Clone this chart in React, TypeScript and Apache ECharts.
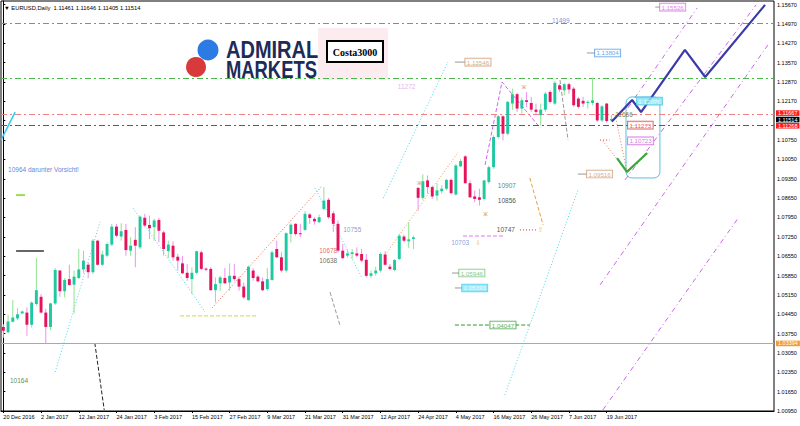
import React, { useEffect, useRef } from "react";
import * as echarts from "echarts";

type Pt = [number, number];

const MONTHS = ["Jan", "Feb", "Mar", "Apr", "May", "Jun", "Jul", "Aug", "Sep", "Oct", "Nov", "Dec"];
const FIRST_DAY = "2016-12-20";
const SKIPPED_DAYS = ["2016-12-26"];
const SLOTS = 164;
const DATE_LABEL_STEP = 8;
const LAST_DATED_BAR = 128;

const Y_MIN = 1.0095;
const Y_MAX = 1.1578;
const Y_STEP = 0.007;
const yTickLabels = [
  "1.00950", "1.01650", "1.02350", "1.03050", "1.03750", "1.04450", "1.05150", "1.05850",
  "1.06550", "1.07250", "1.07950", "1.08650", "1.09350", "1.10050", "1.10750", "",
  "1.12170", "1.12870", "1.13570", "1.14270", "1.14970", "1.15670",
];

const HEADER = "\u25BC EURUSD,Daily  1.11461 1.11646 1.11405 1.11514";

// Daily candles, 20 Dec 2016 .. 20 Jun 2017
const opens = [
  1.0399, 1.0380, 1.0418, 1.0430, 1.0448, 1.0451, 1.0407, 1.0482, 1.0508, 1.0451,
  1.0399, 1.0484, 1.0603, 1.0528, 1.0572, 1.0552, 1.0576, 1.0607, 1.0624, 1.0597,
  1.0711, 1.0624, 1.0657, 1.0697, 1.0762, 1.0726, 1.0750, 1.0675, 1.0714, 1.0687,
  1.0794, 1.0768, 1.0760, 1.0786, 1.0741, 1.0673, 1.0693, 1.0653, 1.0629, 1.0595,
  1.0572, 1.0595, 1.0669, 1.0610, 1.0609, 1.0532, 1.0557, 1.0576, 1.0560, 1.0584,
  1.0572, 1.0545, 1.0496, 1.0603, 1.0581, 1.0564, 1.0536, 1.0569, 1.0681, 1.0651,
  1.0603, 1.0735, 1.0772, 1.0738, 1.0750, 1.0806, 1.0790, 1.0778, 1.0826, 1.0859,
  1.0810, 1.0772, 1.0675, 1.0657, 1.0663, 1.0665, 1.0663, 1.0642, 1.0584, 1.0593,
  1.0603, 1.0661, 1.0617, 1.0605, 1.0645, 1.0726, 1.0709, 1.0717, 1.0902, 1.0866,
  1.0929, 1.0905, 1.0874, 1.0890, 1.0899, 1.0931, 1.0878, 1.0980, 1.1016, 1.0919,
  1.0871, 1.0868, 1.0862, 1.0923, 1.0977, 1.1086, 1.1161, 1.1098, 1.1207, 1.1241,
  1.1189, 1.1219, 1.1209, 1.1185, 1.1165, 1.1185, 1.1249, 1.1207, 1.1273, 1.1255,
  1.1277, 1.1261, 1.1225, 1.1217, 1.1209, 1.1209, 1.1209, 1.1146, 1.1207, 1.11461,
];
const highs = [
  1.0409, 1.0443, 1.0496, 1.0467, 1.0458, 1.0470, 1.0491, 1.0649, 1.0518, 1.0464,
  1.0487, 1.0612, 1.0605, 1.0576, 1.0624, 1.0603, 1.0681, 1.0675, 1.0633, 1.0717,
  1.0714, 1.0675, 1.0705, 1.0772, 1.0772, 1.0774, 1.0772, 1.0723, 1.0760, 1.0802,
  1.0808, 1.0802, 1.0790, 1.0793, 1.0747, 1.0711, 1.0709, 1.0663, 1.0656, 1.0627,
  1.0615, 1.0675, 1.0675, 1.0615, 1.0615, 1.0578, 1.0584, 1.0612, 1.0629, 1.0627,
  1.0581, 1.0560, 1.0621, 1.0612, 1.0588, 1.0578, 1.0612, 1.0675, 1.0711, 1.0669,
  1.0741, 1.0774, 1.0774, 1.0772, 1.0818, 1.0811, 1.0796, 1.0806, 1.0905, 1.0866,
  1.0818, 1.0784, 1.0699, 1.0677, 1.0681, 1.0687, 1.0681, 1.0663, 1.0603, 1.0617,
  1.0669, 1.0673, 1.0627, 1.0645, 1.0736, 1.0733, 1.0778, 1.0729, 1.0905, 1.0951,
  1.0947, 1.0911, 1.0919, 1.0911, 1.0935, 1.0935, 1.0989, 1.1007, 1.1020, 1.0929,
  1.0893, 1.0899, 1.0931, 1.0983, 1.1092, 1.1165, 1.1165, 1.1217, 1.1261, 1.1246,
  1.1229, 1.1249, 1.1231, 1.1207, 1.1207, 1.1249, 1.1255, 1.1289, 1.1279, 1.1282,
  1.1282, 1.1267, 1.1231, 1.1231, 1.1219, 1.1301, 1.1213, 1.1201, 1.1209, 1.11646,
];
const lows = [
  1.0360, 1.0376, 1.0415, 1.0424, 1.0445, 1.0367, 1.0397, 1.0476, 1.0448, 1.0340,
  1.0387, 1.0479, 1.0508, 1.0506, 1.0548, 1.0448, 1.0572, 1.0593, 1.0576, 1.0591,
  1.0621, 1.0619, 1.0651, 1.0692, 1.0723, 1.0711, 1.0657, 1.0657, 1.0615, 1.0681,
  1.0760, 1.0717, 1.0711, 1.0705, 1.0657, 1.0648, 1.0639, 1.0603, 1.0590, 1.0566,
  1.0518, 1.0590, 1.0605, 1.0600, 1.0530, 1.0488, 1.0530, 1.0554, 1.0530, 1.0566,
  1.0530, 1.0500, 1.0494, 1.0566, 1.0560, 1.0528, 1.0530, 1.0566, 1.0648, 1.0596,
  1.0596, 1.0705, 1.0729, 1.0723, 1.0747, 1.0772, 1.0769, 1.0774, 1.0820, 1.0790,
  1.0742, 1.0669, 1.0645, 1.0651, 1.0645, 1.0651, 1.0633, 1.0578, 1.0576, 1.0584,
  1.0596, 1.0621, 1.0603, 1.0600, 1.0641, 1.0705, 1.0685, 1.0681, 1.0820, 1.0859,
  1.0881, 1.0862, 1.0856, 1.0881, 1.0893, 1.0878, 1.0874, 1.0977, 1.0917, 1.0866,
  1.0850, 1.0838, 1.0856, 1.0917, 1.0971, 1.1080, 1.1074, 1.1092, 1.1183, 1.1177,
  1.1171, 1.1195, 1.1177, 1.1168, 1.1128, 1.1177, 1.1207, 1.1201, 1.1249, 1.1237,
  1.1243, 1.1195, 1.1189, 1.1195, 1.1189, 1.1201, 1.1140, 1.1140, 1.1137, 1.11405,
];
const closes = [
  1.0385, 1.0419, 1.0433, 1.0445, 1.0455, 1.0407, 1.0487, 1.0532, 1.0451, 1.0399,
  1.0484, 1.0605, 1.0528, 1.0569, 1.0551, 1.0581, 1.0607, 1.0639, 1.0597, 1.0711,
  1.0624, 1.0661, 1.0699, 1.0762, 1.0729, 1.0745, 1.0677, 1.0693, 1.0693, 1.0798,
  1.0766, 1.0756, 1.0784, 1.0747, 1.0681, 1.0697, 1.0651, 1.0639, 1.0593, 1.0576,
  1.0595, 1.0673, 1.0609, 1.0606, 1.0532, 1.0554, 1.0578, 1.0557, 1.0584, 1.0572,
  1.0545, 1.0506, 1.0617, 1.0576, 1.0564, 1.0532, 1.0572, 1.0669, 1.0651, 1.0603,
  1.0738, 1.0769, 1.0735, 1.0735, 1.0808, 1.0793, 1.0781, 1.0796, 1.0856, 1.0796,
  1.0772, 1.0675, 1.0648, 1.0665, 1.0669, 1.0657, 1.0639, 1.0584, 1.0593, 1.0603,
  1.0663, 1.0624, 1.0609, 1.0641, 1.0729, 1.0711, 1.0716, 1.0723, 1.0866, 1.0926,
  1.0905, 1.0871, 1.0893, 1.0899, 1.0931, 1.0883, 1.0983, 1.0999, 1.0919, 1.0868,
  1.0862, 1.0859, 1.0929, 1.0977, 1.1086, 1.1161, 1.1098, 1.1213, 1.1241, 1.1189,
  1.1219, 1.1213, 1.1185, 1.1177, 1.1185, 1.1243, 1.1213, 1.1282, 1.1258, 1.1277,
  1.1258, 1.1201, 1.1195, 1.1207, 1.1213, 1.1219, 1.1146, 1.1197, 1.1144, 1.11514,
];

// Horizontal levels
const levelGreenHigh = 1.1499;
const levelGreenLow = 1.13;
const levelRedUpper = 1.11667;
const levelRedLower = 1.11268;
const levelOrange = 1.03394;
const lastPrice = 1.11514;

// Drawn objects, [bar index, price]
const cyanDotted: Pt[][] = [
  [[11.0, 1.0236], [20.5, 1.0779]],
  [[27.5, 1.0829], [42.8, 1.0453]],
  [[66.1, 1.0902], [76.1, 1.0576]],
  [[80.6, 1.0865], [94.3, 1.1357]],
  [[106.4, 1.0153], [121.9, 1.0894]],
];
const redDotted: Pt[][] = [[[44.3, 1.0468], [67.6, 1.0909]]];
const orangeDotted: Pt[][] = [[[81.0, 1.0659], [96.5, 1.1032]]];
const orangeDashed: Pt[][] = [[[111.7, 1.0938], [114.5, 1.0768]]];
const violetDashed: Pt[][] = [[[102.2, 1.0985], [105.8, 1.1285], [113.9, 1.1119]]];
const violetChannel: Pt[][] = [
  [[132.5, 1.1191], [147.2, 1.1553]],
  [[131.9, 1.0931], [159.7, 1.1564]],
  [[126.6, 1.0551], [162.2, 1.1419]],
  [[127.2, 1.0099], [155.9, 1.0793]],
];
const greyDashed: Pt[][] = [
  [[118.1, 1.1292], [119.8, 1.1075]],
  [[69.3, 1.0525], [71.4, 1.0406]],
];
const limeDashed: Pt[][] = [[[37.5, 1.0439], [54.0, 1.0439]]];
const blackDashed: Pt[][] = [[[19.4, 1.0341], [21.4, 1.0099]]];
const pinkDashed: Pt[][] = [[[97.5, 1.0728], [106.4, 1.0728]]];
const redDots: Pt[][] = [
  [[109.6, 1.075], [113.4, 1.075]],
  [[126.6, 1.1075], [128.6, 1.1075]],
];
const greenDashed: Pt[][] = [
  [[95.8, 1.0406], [103.3, 1.0406]],
  [[108.6, 1.0406], [111.7, 1.0406]],
];
const salmonDotted: Pt[][] = [
  [[129.8, 1.1166], [132.3, 1.096]],
  [[127.2, 1.1072], [132.3, 1.096]],
];
const blackShort: Pt[][] = [[[2.7, 1.0674], [8.6, 1.0674]]];
const limeShort: Pt[][] = [[[2.7, 1.0876], [4.6, 1.0876]]];
const cyanSolid: Pt[][] = [[[-0.5, 1.1075], [2.5, 1.1176]]];
const forecastUp: Pt[] = [[129.1, 1.1142], [133.4, 1.122], [135.3, 1.1176], [144.6, 1.1401], [148.9, 1.1303], [161.6, 1.1564]];
const forecastDip: Pt[] = [[130.2, 1.101], [132.3, 1.096], [136.6, 1.1028]];
const forecastBox = [132.1, 1.1231, 139.3, 1.0938];

// Plain texts: text, anchor
const noteTexts: { text: string; at: Pt; color: string; font?: string }[] = [
  { text: "10964 darunter Vorsicht!", at: [1.0, 1.0967], color: "#3a62c9" },
  { text: "10164", at: [1.4, 1.0204], color: "#2f6b2f" },
  { text: "11499", at: [116.4, 1.1509], color: "#5577cc" },
  { text: "11272", at: [83.7, 1.1267], color: "#d9a0e6" },
  { text: "11666", at: [129.8, 1.1169], color: "#556b2f" },
  { text: "10907", at: [104.9, 1.0909], color: "#2e6b2e" },
  { text: "10856", at: [104.9, 1.0858], color: "#222222" },
  { text: "10747", at: [104.7, 1.075], color: "#222222" },
  { text: "10703", at: [95.0, 1.0703], color: "#6a86d0" },
  { text: "10755", at: [72.1, 1.0753], color: "#6a7fd0" },
  { text: "10678", at: [67.0, 1.0677], color: "#e03c3c" },
  { text: "10638", at: [67.0, 1.0638], color: "#444444" },
  { text: "\u21E7", at: [113.4, 1.075], color: "#e8a040", font: "DejaVu Sans" },
  { text: "\u21E9", at: [100.1, 1.0703], color: "#e8a040", font: "DejaVu Sans" },
  { text: "\u0436", at: [87.8, 1.0923], color: "#d08a40" },
  { text: "\u0436", at: [110.0, 1.1267], color: "#d08a40" },
  { text: "\u0436", at: [101.8, 1.0811], color: "#d08a40" },
];

// Price boxes: text, tick start index, box index, price
const priceBoxes: { text: string; from: number | null; at: Pt; color: string; fill?: string; textColor?: string }[] = [
  { text: "1.13546", from: 95.8, at: [98.0, 1.1357], color: "#c8956a" },
  { text: "1.13804", from: 123.8, at: [125.5, 1.139], color: "#3d8fe0" },
  { text: "1.15526", from: 138.3, at: [139.3, 1.1556], color: "#cc66dd" },
  { text: "1.12076", from: null, at: [134.4, 1.1216], color: "#44c4e6", fill: "#8de6f7", textColor: "#ffffff" },
  { text: "1.11273", from: null, at: [132.5, 1.1129], color: "#dd3333" },
  { text: "1.10723", from: null, at: [132.5, 1.1072], color: "#cc55dd" },
  { text: "1.09516", from: 121.9, at: [123.8, 1.0952], color: "#c8956a" },
  { text: "1.05946", from: 95.2, at: [96.7, 1.0594], color: "#66bb66" },
  { text: "1.05393", from: 95.8, at: [97.3, 1.054], color: "#44ccee", fill: "#8de6f7", textColor: "#ffffff" },
  { text: "1.04047", from: null, at: [103.3, 1.0406], color: "#339933" },
];

const FONT = "Liberation Sans";
const UP_BODY = "#1ec8a3";
const DOWN_BODY = "#e5135a";
const UP_WICK = "#8fe38f";
const DOWN_WICK = "#ee90ee";

function buildDates(): string[] {
  const out: string[] = [];
  const d = new Date(FIRST_DAY + "T00:00:00Z");
  while (out.length < SLOTS) {
    const iso = d.toISOString().slice(0, 10);
    const wd = d.getUTCDay();
    if (wd !== 0 && wd !== 6 && !SKIPPED_DAYS.includes(iso)) {
      out.push(`${d.getUTCDate()} ${MONTHS[d.getUTCMonth()]} ${d.getUTCFullYear()}`);
    }
    d.setUTCDate(d.getUTCDate() + 1);
  }
  return out;
}

function segSeries(segs: Pt[][], color: string, type: any, width = 1, z = 4): any[] {
  return segs.map((pts) => ({
    type: "line",
    xAxisIndex: 1,
    yAxisIndex: 0,
    data: pts,
    symbol: "none",
    showSymbol: false,
    silent: true,
    lineStyle: { color, type, width },
    z,
  }));
}

function buildOption(): any {
  const dates = buildDates();
  const candleRows = opens.map((o, i) => [i, o, highs[i], lows[i], closes[i]]);
  const showDate = (i: number) => i % DATE_LABEL_STEP === 0 && i <= LAST_DATED_BAR;

  const DOT = [1, 2];
  const DASH = [4, 2];
  const DASHDOT = [6, 3, 2, 3];
  const CHANNEL = [5, 3, 1, 3];

  const hLine = (value: number, color: string, type: any, tag?: { bg: string; dy: number }) => ({
    yAxis: value,
    lineStyle: { color, type, width: 1 },
    label: tag
      ? {
          show: true,
          position: "end",
          distance: 2,
          offset: [0, tag.dy],
          formatter: value.toFixed(5),
          color: "#ffffff",
          backgroundColor: tag.bg,
          padding: [0, 2, 0, 2],
          lineHeight: 5.6,
          fontSize: 5.5,
          fontFamily: FONT,
        }
      : { show: false },
  });

  const tickSegs: Pt[][] = priceBoxes
    .filter((b) => b.from !== null)
    .map((b) => [[b.from as number, b.at[1]], [b.at[0], b.at[1]]]);

  const series: any[] = [
    {
      type: "custom",
      name: "EURUSD",
      xAxisIndex: 0,
      yAxisIndex: 0,
      data: candleRows,
      encode: { x: 0, y: [1, 2, 3, 4] },
      z: 5,
      silent: true,
      renderItem: (_p: any, api: any) => {
        const i = api.value(0);
        const o = api.value(1);
        const h = api.value(2);
        const l = api.value(3);
        const c = api.value(4);
        const up = c >= o;
        const pH = api.coord([i, h]);
        const pL = api.coord([i, l]);
        const pO = api.coord([i, o]);
        const pC = api.coord([i, c]);
        const bw = Math.max(1, api.size([1, 0])[0] * 0.62);
        const top = Math.min(pO[1], pC[1]);
        const hgt = Math.max(1, Math.abs(pO[1] - pC[1]));
        return {
          type: "group",
          children: [
            {
              type: "line",
              shape: { x1: pH[0], y1: pH[1], x2: pL[0], y2: pL[1] },
              style: { stroke: up ? UP_WICK : DOWN_WICK, lineWidth: 1 },
            },
            {
              type: "rect",
              shape: { x: pO[0] - bw / 2, y: top, width: bw, height: hgt },
              style: { fill: up ? UP_BODY : DOWN_BODY },
            },
          ],
        };
      },
    },
    {
      type: "line",
      xAxisIndex: 1,
      yAxisIndex: 0,
      data: [],
      silent: true,
      z: 3,
      markLine: {
        silent: true,
        precision: 5,
        symbol: ["none", "none"],
        animation: false,
        data: [
          hLine(levelGreenHigh, "#48b848", DASHDOT),
          hLine(levelGreenLow, "#48b848", DASHDOT),
          hLine(levelRedUpper, "#f08080", DASHDOT, { bg: "#ff1a1a", dy: -1.6 }),
          hLine(levelRedLower, "#d02a2a", DASHDOT, { bg: "#ff1a1a", dy: 0 }),
          hLine(levelOrange, "#f59a30", "solid", { bg: "#f39c32", dy: 0 }),
          hLine(lastPrice, "rgba(0,0,0,0)", "solid", { bg: "#000000", dy: 0.6 }),
        ],
      },
    },
    ...segSeries(cyanDotted, "#4fd3ea", DOT),
    ...segSeries(redDotted, "#e06a50", DOT),
    ...segSeries(orangeDotted, "#e8a040", DOT),
    ...segSeries(orangeDashed, "#e8a040", DASH),
    ...segSeries(violetDashed, "#cc66ee", DASH),
    ...segSeries(violetChannel, "#cc66ee", CHANNEL),
    ...segSeries(greyDashed, "#9a9a9a", DASH),
    ...segSeries(limeDashed, "#c8d84a", DASH),
    ...segSeries(blackDashed, "#222222", DASH),
    ...segSeries(pinkDashed, "#dd77ee", DASH),
    ...segSeries(redDots, "#e03030", DOT),
    ...segSeries(greenDashed, "#339933", DASH),
    ...segSeries(salmonDotted, "#e88060", DOT),
    ...segSeries(blackShort, "#333333", "solid", 1.5),
    ...segSeries(limeShort, "#99dd55", "solid", 2),
    ...segSeries(cyanSolid, "#33ccee", "solid", 1.5),
    ...segSeries(tickSegs, "#999999", "solid", 1),
    ...segSeries([forecastUp], "#3a3aa8", "solid", 2.2, 6),
    ...segSeries([forecastDip], "#3aa83a", "solid", 2.2, 6),
    {
      type: "custom",
      xAxisIndex: 1,
      yAxisIndex: 0,
      data: [forecastBox],
      encode: { x: [0, 2], y: [1, 3] },
      silent: true,
      z: 4,
      renderItem: (_p: any, api: any) => {
        const a = api.coord([api.value(0), api.value(1)]);
        const b = api.coord([api.value(2), api.value(3)]);
        return {
          type: "rect",
          shape: { x: a[0], y: a[1], width: b[0] - a[0], height: b[1] - a[1], r: 6 },
          style: { fill: "none", stroke: "#5bc0de", lineWidth: 1 },
        };
      },
    },
    {
      type: "scatter",
      xAxisIndex: 1,
      yAxisIndex: 0,
      symbolSize: 0,
      silent: true,
      z: 7,
      data: noteTexts.map((t) => ({
        value: t.at,
        label: {
          show: true,
          position: "right",
          distance: 0,
          formatter: t.text,
          color: t.color,
          fontSize: 6.5,
          fontFamily: t.font ?? FONT,
        },
      })),
    },
    {
      type: "scatter",
      xAxisIndex: 1,
      yAxisIndex: 0,
      symbolSize: 0,
      silent: true,
      z: 8,
      data: priceBoxes.map((b) => ({
        value: b.at,
        label: {
          show: true,
          position: "right",
          distance: 0,
          formatter: b.text,
          color: b.textColor ?? b.color,
          fontSize: 6.2,
          fontFamily: FONT,
          borderColor: b.color,
          borderWidth: 0.8,
          padding: [1, 1.5, 0, 1.5],
          backgroundColor: b.fill ?? "#ffffff",
        },
      })),
    },
  ];

  return {
    animation: false,
    backgroundColor: "#ffffff",
    grid: { left: 1, right: 26, top: 1, bottom: 15, show: true, borderColor: "#000", borderWidth: 1 },
    xAxis: [
      {
        type: "category",
        data: dates,
        boundaryGap: true,
        axisLine: { show: true, lineStyle: { color: "#000" } },
        axisTick: { show: true, length: 2, alignWithLabel: true, interval: (i: number) => showDate(i), lineStyle: { color: "#000" } },
        axisLabel: {
          interval: (i: number) => showDate(i),
          align: "left",
          fontSize: 5.5,
          color: "#000",
          margin: 3,
          fontFamily: FONT,
        },
        splitLine: { show: false },
      },
      { type: "value", min: -0.5, max: SLOTS - 0.5, show: false, splitLine: { show: false } },
    ],
    yAxis: {
      type: "value",
      position: "right",
      min: Y_MIN,
      max: Y_MAX,
      interval: Y_STEP,
      scale: true,
      splitLine: { show: false },
      axisLine: { show: true, lineStyle: { color: "#000" } },
      axisTick: { show: true, length: 2, lineStyle: { color: "#000" } },
      axisLabel: {
        fontSize: 5.5,
        color: "#000",
        margin: 3,
        fontFamily: FONT,
        showMaxLabel: false,
        formatter: (v: number) => {
          const k = (v - Y_MIN) / Y_STEP;
          const r = Math.round(k);
          if (Math.abs(k - r) > 0.01) return "";
          return yTickLabels[r] ?? "";
        },
      },
    },
    graphic: [
      { type: "rect", shape: { x: 318, y: 28, width: 70, height: 52 }, style: { fill: "#fcebef" }, z: 0 },
      { type: "rect", shape: { x: 327, y: 41, width: 56, height: 21 }, style: { fill: "#ffffff", stroke: "#000000", lineWidth: 2 }, z: 1 },
      {
        type: "text",
        x: 355,
        y: 52,
        z: 2,
        style: { text: "Costa3000", fontSize: 10, fontWeight: "bold", fontFamily: "Liberation Serif", fill: "#000", align: "center", verticalAlign: "middle" },
      },
      { type: "circle", shape: { cx: 208, cy: 50, r: 10.5 }, style: { fill: "#2c7be5" }, z: 1 },
      { type: "circle", shape: { cx: 196, cy: 67, r: 10 }, style: { fill: "#d83a3c" }, z: 1 },
      {
        type: "text",
        x: 226,
        y: 49.5,
        scaleX: 0.87,
        z: 1,
        style: { text: "ADMIRAL", fontSize: 23, fontWeight: "bold", fontFamily: FONT, fill: "#1d2b58", align: "left", verticalAlign: "middle" },
      },
      {
        type: "text",
        x: 226,
        y: 69.5,
        scaleX: 0.8,
        z: 1,
        style: { text: "MARKETS", fontSize: 23, fontWeight: "bold", fontFamily: FONT, fill: "#1d2b58", align: "left", verticalAlign: "middle" },
      },
      {
        type: "text",
        x: 4,
        y: 8,
        z: 10,
        style: { text: HEADER, fontSize: 5.8, fontFamily: FONT, fill: "#000", align: "left", verticalAlign: "middle" },
      },
    ],
    series,
  };
}

export default function App() {
  const ref = useRef<HTMLDivElement>(null);
  useEffect(() => {
    document.body.style.margin = "0";
    const chart = echarts.init(ref.current as HTMLDivElement, null, { renderer: "svg" });
    chart.setOption(buildOption());
    return () => chart.dispose();
  }, []);
  return <div ref={ref} style={{ position: "absolute", left: 0, top: 0, width: 800, height: 426 }} />;
}
